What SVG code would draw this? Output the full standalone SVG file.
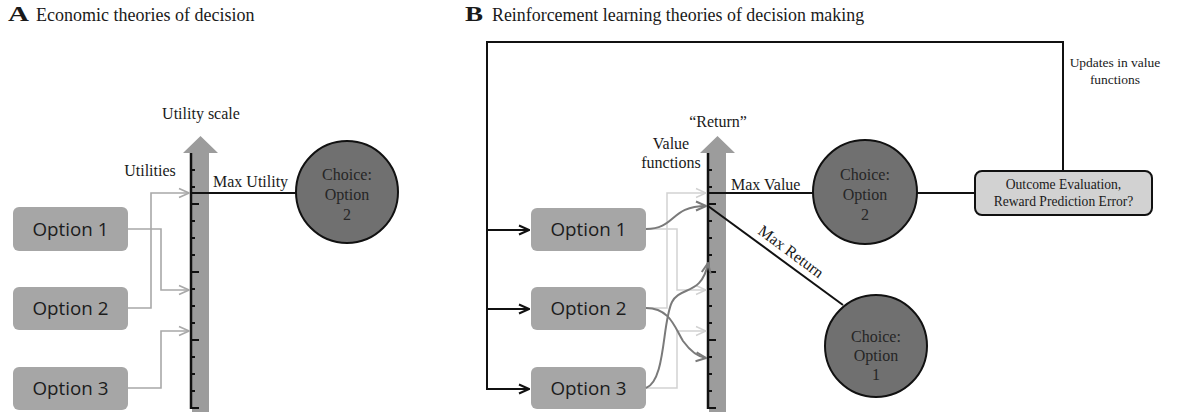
<svg xmlns="http://www.w3.org/2000/svg" width="1178" height="412" viewBox="0 0 1178 412">
<defs>
<style>
.serif{font-family:"Liberation Serif","Times New Roman",serif;fill:#1a1a1a}
.lbl{font-size:16px}
.ctext{font-family:"Liberation Serif","Times New Roman",serif;font-size:16px;fill:#262626;text-anchor:middle}
.opt rect{fill:#a6a6a6}
.opt text{font-family:"Open Sans","Noto Sans",sans-serif;font-size:18.8px;fill:#1c1c1c;text-anchor:middle}
.circ{fill:#707070;stroke:#111;stroke-width:2}
.shaft{fill:#9c9c9c}
.axis{stroke:#111;stroke-width:2.5;fill:none}
.tick{stroke:#111;stroke-width:2}
.gA{fill:none;stroke:#a8a8a8;stroke-width:1.6}
.gL{fill:none;stroke:#d2d2d2;stroke-width:1.5}
.gD{fill:none;stroke:#7a7a7a;stroke-width:2}
.blk{fill:none;stroke:#111;stroke-width:2}
</style>
<marker id="chA" viewBox="0 0 12 12" refX="11" refY="6" markerWidth="12" markerHeight="12" orient="auto" markerUnits="userSpaceOnUse"><path d="M1,1.5 L11,6 L1,10.5" fill="none" stroke="#a8a8a8" stroke-width="1.6"/></marker>
<marker id="chL" viewBox="0 0 12 12" refX="11" refY="6" markerWidth="12" markerHeight="12" orient="auto" markerUnits="userSpaceOnUse"><path d="M1,1.5 L11,6 L1,10.5" fill="none" stroke="#d2d2d2" stroke-width="1.5"/></marker>
<marker id="chD" viewBox="0 0 12 12" refX="11" refY="6" markerWidth="12" markerHeight="12" orient="auto" markerUnits="userSpaceOnUse"><path d="M1,1.5 L11,6 L1,10.5" fill="none" stroke="#7a7a7a" stroke-width="2"/></marker>
<marker id="chK" viewBox="0 0 12 12" refX="11" refY="6" markerWidth="12" markerHeight="12" orient="auto" markerUnits="userSpaceOnUse"><path d="M1,1.5 L11,6 L1,10.5" fill="none" stroke="#111" stroke-width="2"/></marker>
<g id="ticks">
<line class="tick" x1="0" y1="170" x2="4" y2="170"/>
<line class="tick" x1="0" y1="187" x2="4" y2="187"/>
<line class="tick" x1="0" y1="204" x2="8" y2="204"/>
<line class="tick" x1="0" y1="221" x2="4" y2="221"/>
<line class="tick" x1="0" y1="238" x2="4" y2="238"/>
<line class="tick" x1="0" y1="255" x2="4" y2="255"/>
<line class="tick" x1="0" y1="272" x2="8" y2="272"/>
<line class="tick" x1="0" y1="289" x2="4" y2="289"/>
<line class="tick" x1="0" y1="306" x2="4" y2="306"/>
<line class="tick" x1="0" y1="323" x2="4" y2="323"/>
<line class="tick" x1="0" y1="340" x2="8" y2="340"/>
<line class="tick" x1="0" y1="357" x2="4" y2="357"/>
<line class="tick" x1="0" y1="374" x2="4" y2="374"/>
<line class="tick" x1="0" y1="391" x2="4" y2="391"/>
<line class="tick" x1="0" y1="408" x2="8" y2="408"/>
</g>
</defs>
<rect width="1178" height="412" fill="#fff"/>

<!-- Panel A -->
<g id="titleA">
<text x="8" y="21" class="serif" font-size="20" font-weight="bold" textLength="21" lengthAdjust="spacingAndGlyphs">A</text>
<text x="36" y="21" class="serif" font-size="18">Economic theories of decision</text>
</g>
<g id="scaleA">
<path class="shaft" d="M192,153 L183,153 L200.5,136 L218,153 L209,153 L209,412 L192,412 Z"/>
<line class="axis" x1="191" y1="153" x2="191" y2="409"/>
<use href="#ticks" x="191"/>
<text x="201" y="119" class="serif lbl" text-anchor="middle">Utility scale</text>
<text x="150" y="176" class="serif lbl" text-anchor="middle">Utilities</text>
<text x="213" y="187" class="serif lbl">Max Utility</text>
</g>
<g id="A-opt1" class="opt"><rect x="13" y="207" width="115" height="44" rx="6"/><text x="70.5" y="236">Option 1</text></g>
<g id="A-opt2" class="opt"><rect x="13" y="287" width="115" height="43" rx="6"/><text x="70.5" y="315">Option 2</text></g>
<g id="A-opt3" class="opt"><rect x="13" y="367" width="115" height="43" rx="6"/><text x="70.5" y="395">Option 3</text></g>
<g id="A-choice"><circle class="circ" cx="347" cy="192" r="51"/>
<text class="ctext" x="347" y="180">Choice:</text><text class="ctext" x="347" y="200">Option</text><text class="ctext" x="347" y="220">2</text></g>
<g id="A-connectors">
<path class="gA" d="M128,229 H161 V290 H189" marker-end="url(#chA)"/>
<path class="gA" d="M128,308 H151 V193 H189" marker-end="url(#chA)"/>
<path class="gA" d="M128,388 H161 V331 H189" marker-end="url(#chA)"/>
<line class="blk" x1="191" y1="193" x2="296" y2="193"/>
</g>

<!-- Panel B -->
<g id="titleB">
<text x="465" y="21" class="serif" font-size="20" font-weight="bold" textLength="18" lengthAdjust="spacingAndGlyphs">B</text>
<text x="492" y="21" class="serif" font-size="17.9">Reinforcement learning theories of decision making</text>
</g>
<g id="scaleB">
<path class="shaft" d="M709,153 L700,153 L717.5,136 L735,153 L726,153 L726,412 L709,412 Z"/>
<line class="axis" x1="708" y1="153" x2="708" y2="409"/>
<use href="#ticks" x="708"/>
<text x="718" y="127" class="serif lbl" text-anchor="middle">“Return”</text>
<text x="671" y="149" class="serif lbl" text-anchor="middle">Value</text>
<text x="671" y="168" class="serif lbl" text-anchor="middle">functions</text>
<text x="731" y="190" class="serif lbl">Max Value</text>
<text class="serif lbl" transform="translate(757,233) rotate(36.5)">Max Return</text>
</g>
<g id="B-opt1" class="opt"><rect x="531" y="208" width="115" height="43" rx="6"/><text x="588.5" y="236">Option 1</text></g>
<g id="B-opt2" class="opt"><rect x="531" y="287" width="115" height="43" rx="6"/><text x="588.5" y="315">Option 2</text></g>
<g id="B-opt3" class="opt"><rect x="531" y="367" width="115" height="42" rx="6"/><text x="588.5" y="395">Option 3</text></g>
<g id="B-choice2"><circle class="circ" cx="865" cy="192" r="52"/>
<text class="ctext" x="865" y="180">Choice:</text><text class="ctext" x="865" y="200">Option</text><text class="ctext" x="865" y="220">2</text></g>
<g id="B-choice1"><circle class="circ" cx="876" cy="346" r="51"/>
<text class="ctext" x="876" y="342">Choice:</text><text class="ctext" x="876" y="361">Option</text><text class="ctext" x="876" y="380">1</text></g>
<g id="B-outcome"><rect x="975" y="171" width="177" height="44" rx="7" fill="#d2d2d2" stroke="#111" stroke-width="2"/>
<text x="1063.5" y="189" class="serif" font-size="13.6" text-anchor="middle">Outcome Evaluation,</text>
<text x="1063.5" y="206" class="serif" font-size="13.6" text-anchor="middle">Reward Prediction Error?</text></g>
<g id="B-updates">
<text x="1115" y="67" class="serif" font-size="13.5" text-anchor="middle">Updates in value</text>
<text x="1115" y="84" class="serif" font-size="13.5" text-anchor="middle">functions</text>
</g>
<g id="B-connectors">
<path class="gL" d="M646,308 H667 V193 H706" marker-end="url(#chL)"/>
<path class="gL" d="M646,229 H677 V290 H706" marker-end="url(#chL)"/>
<path class="gL" d="M646,388 H677 V331 H706" marker-end="url(#chL)"/>
<path class="gD" d="M646,229 C676,229 670,206 706,206" marker-end="url(#chD)"/>
<path class="gD" d="M646,388 C666,380 662,322 672,302 C680,286 702,296 708,263" marker-end="url(#chD)"/>
<path class="gD" d="M646,308 C670,308 675,328 683,341 C691,352 698,357 706,358" marker-end="url(#chD)"/>
<line class="blk" x1="708" y1="193" x2="813" y2="193"/>
<line class="blk" x1="708" y1="206" x2="843" y2="305"/>
<line class="blk" x1="917" y1="193" x2="975" y2="193"/>
<path class="blk" stroke-width="2.5" d="M1063,171 V42 H487 V390"/>
<path class="blk" d="M487,230 H529" marker-end="url(#chK)"/>
<path class="blk" d="M487,309 H529" marker-end="url(#chK)"/>
<path class="blk" d="M487,389 H529" marker-end="url(#chK)"/>
</g>
</svg>
